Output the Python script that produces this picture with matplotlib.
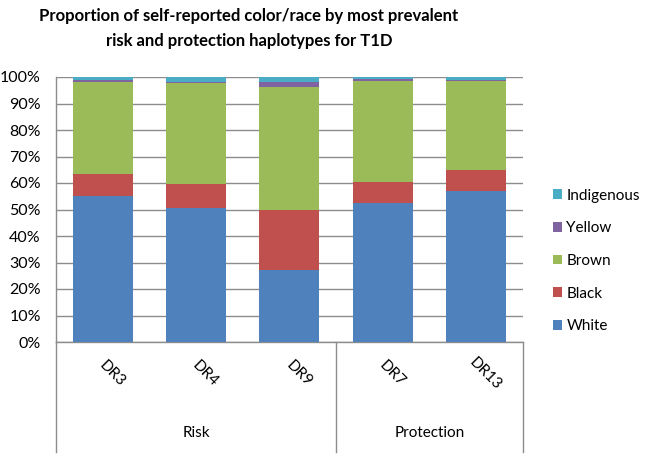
import matplotlib
matplotlib.use("Agg")
import matplotlib.pyplot as plt
import numpy as np

categories = ["DR3", "DR4", "DR9", "DR7", "DR13"]
groups = ["Risk", "Protection"]
group_sizes = [3, 2]
series_names = ["White", "Black", "Brown", "Yellow", "Indigenous"]
white = [55.2, 50.4, 27.2, 52.3, 57.0]
black = [8.1, 9.3, 22.7, 8.2, 8.0]
brown = [34.9, 38.1, 46.4, 38.1, 33.6]
yellow = [0.8, 0.5, 1.8, 0.8, 0.4]
indigenous = [1.0, 1.7, 1.9, 0.6, 1.0]
colors = ["#4F81BD", "#C0504D", "#9BBB59", "#8064A2", "#4BACC6"]
yticks = [0, 10, 20, 30, 40, 50, 60, 70, 80, 90, 100]

plt.rcParams['font.family'] = ['Lato', 'DejaVu Sans']

fig = plt.figure(figsize=(6.46, 4.54), dpi=100)
ax = fig.add_axes([56/646, 1-342/454, (522.7-56)/646, (342-77)/454])

x = np.arange(len(categories))
bottom = np.zeros(len(categories))
handles = []
for name, vals, c in zip(series_names, [white, black, brown, yellow, indigenous], colors):
    h = ax.bar(x, vals, 0.64, bottom=bottom, color=c, label=name, zorder=3)
    handles.append(h)
    bottom += np.array(vals)

ax.set_xlim(-0.5, len(categories) - 0.5)
ax.set_ylim(0, 100)
ax.set_yticks(yticks)
ax.set_yticklabels([f"{v}%" for v in yticks], fontsize=11.5)
ax.tick_params(axis='y', length=0, pad=11)
ax.set_xticks([])
ax.grid(axis='y', color='#8c8c8c', linewidth=1.0, zorder=0)
for s in ['top', 'right']:
    ax.spines[s].set_visible(False)
for s in ['left', 'bottom']:
    ax.spines[s].set_color('#8c8c8c')
    ax.spines[s].set_linewidth(1.0)

# category axis
tr = ax.get_xaxis_transform()
ybot = -(452-342)/265
bounds = [-0.5]
acc = -0.5
for g in group_sizes:
    acc += g
    bounds.append(acc)
for b in bounds:
    ax.plot([b, b], [0, ybot], transform=tr, color='#8c8c8c', lw=1.0, clip_on=False)
for i, cat in enumerate(categories):
    ax.text(i + 0.1, -0.12, cat, transform=tr, rotation=-45, ha='center', va='center',
            fontsize=11, rotation_mode='anchor')
start = -0.5
for g, gs in zip(groups, group_sizes):
    ax.text(start + gs/2, -0.345, g, transform=tr, ha='center', va='center', fontsize=11)
    start += gs

fig.text(249/646, 1-16/454, "Proportion of self-reported color/race by most prevalent",
         ha='center', va='center', fontsize=12, fontweight='bold')
fig.text(249/646, 1-41/454, "risk and protection haplotypes for T1D",
         ha='center', va='center', fontsize=12, fontweight='bold')

leg = ax.legend(handles[::-1], series_names[::-1], loc='center left',
                bbox_to_anchor=(539/646, 1-261/454), bbox_transform=fig.transFigure,
                frameon=False, fontsize=11, handlelength=0.6, handleheight=0.6,
                handletextpad=0.3, labelspacing=1.22)

fig.savefig("out.png", dpi=100)
